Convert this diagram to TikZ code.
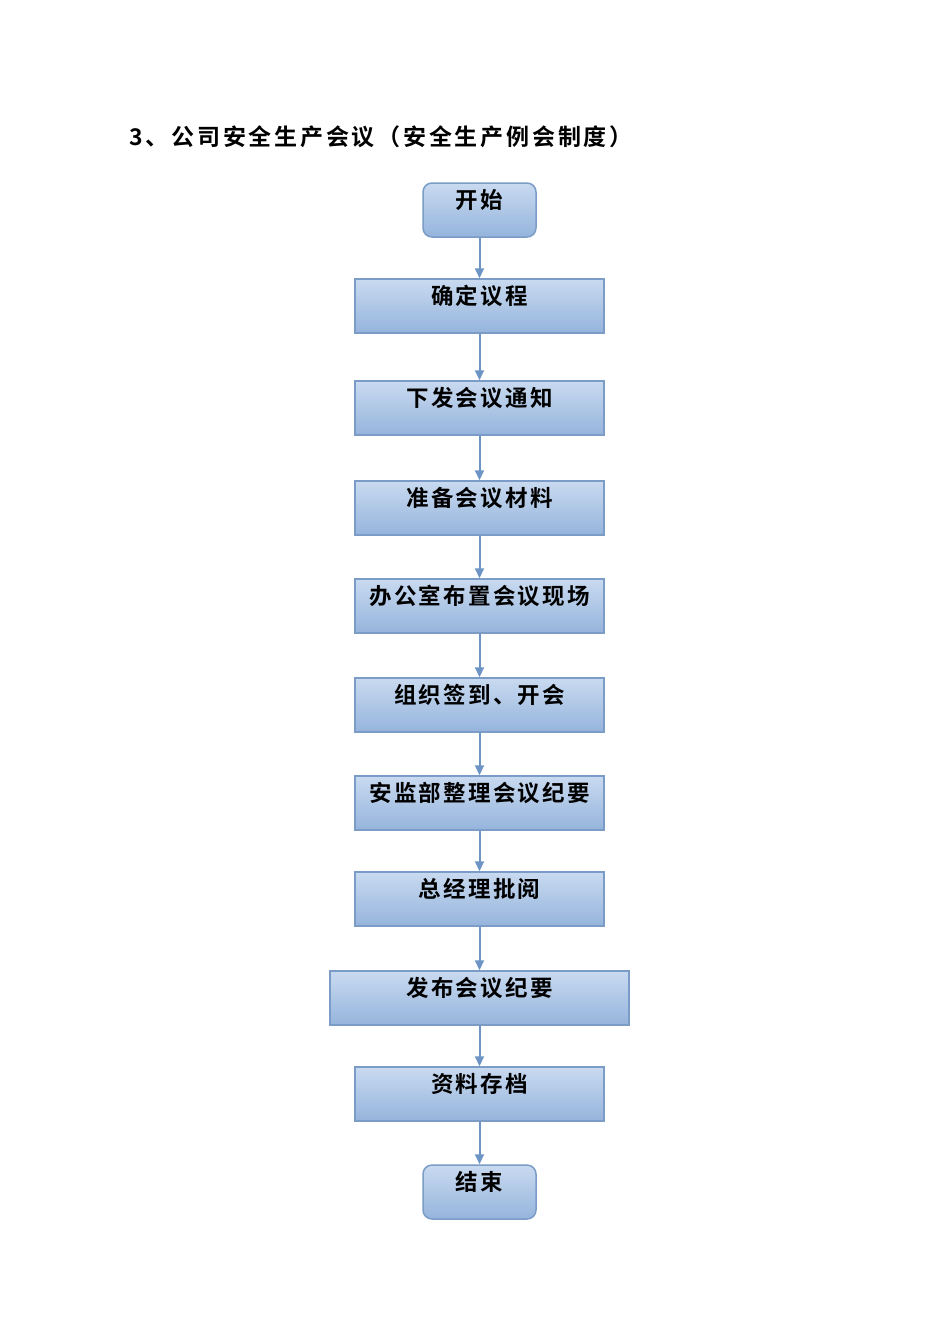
\documentclass[tikz,border=0pt]{standalone}
\usepackage{fontspec}
\newfontfamily\cjk[LetterSpace=10,BoldFont={Noto Sans CJK SC Bold}]{Noto Sans CJK SC}
\newfontfamily\cjktitle[LetterSpace=12,BoldFont={Noto Sans CJK SC Bold}]{Noto Sans CJK SC}
\usetikzlibrary{arrows.meta}
\definecolor{boxtop}{HTML}{C9DAF0}
\definecolor{boxbot}{HTML}{95B4DC}
\definecolor{boxline}{HTML}{7A9CC6}
\definecolor{arrline}{HTML}{6C94C4}
\tikzset{
  stepbox/.style={rectangle, draw=boxline, line width=1.5pt, top color=boxtop, bottom color=boxbot,
    minimum width=249pt, minimum height=54pt, inner sep=0pt, font=\cjk\bfseries\fontsize{22.5}{22.5}\selectfont,
    text height=17pt, text depth=21pt},
  endbox/.style={stepbox, rounded corners=9pt, minimum width=113pt},
  arr/.style={draw=arrline, line width=2pt, -{Triangle[length=10pt,width=9pt]}}
}
\begin{document}
\begin{tikzpicture}[x=1pt,y=-1pt]
\useasboundingbox (0,0) rectangle (950,1344);
\node [anchor=west, font=\cjktitle\bfseries\fontsize{23}{23}\selectfont] (title) at (126,137) {3、公司安全生产会议（安全生产例会制度）};
\node [endbox] (start) at (479.5,210) {开始};
\node [stepbox] (agenda) at (479.5,306) {确定议程};
\node [stepbox] (notice) at (479.5,408) {下发会议通知};
\node [stepbox] (material) at (479.5,508) {准备会议材料};
\node [stepbox] (venue) at (479.5,606) {办公室布置会议现场};
\node [stepbox] (signin) at (479.5,705) {组织签到、开会};
\node [stepbox] (minutes) at (479.5,803) {安监部整理会议纪要};
\node [stepbox] (review) at (479.5,899) {总经理批阅};
\node [stepbox, minimum width=299pt] (publish) at (479.5,998) {发布会议纪要};
\node [stepbox] (archive) at (479.5,1094) {资料存档};
\node [endbox] (finish) at (479.5,1192) {结束};
\draw [arr] (start) -- (agenda);
\draw [arr] (agenda) -- (notice);
\draw [arr] (notice) -- (material);
\draw [arr] (material) -- (venue);
\draw [arr] (venue) -- (signin);
\draw [arr] (signin) -- (minutes);
\draw [arr] (minutes) -- (review);
\draw [arr] (review) -- (publish);
\draw [arr] (publish) -- (archive);
\draw [arr] (archive) -- (finish);
\end{tikzpicture}
\end{document}
